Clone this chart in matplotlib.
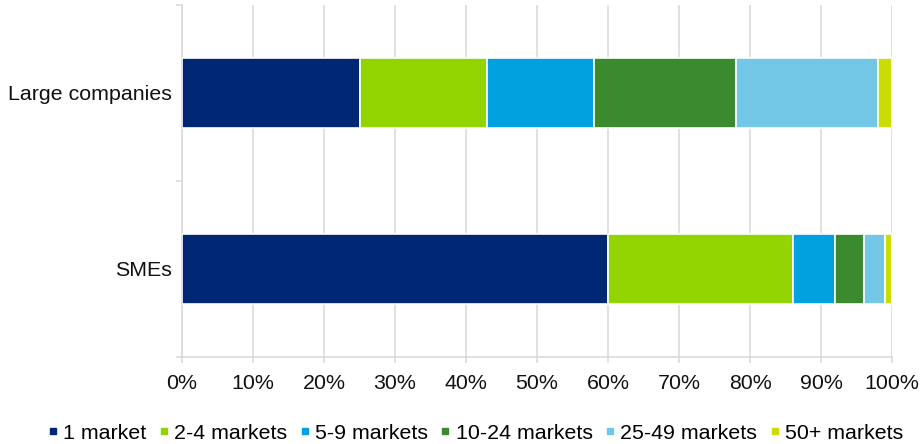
import matplotlib.pyplot as plt
import numpy as np
from matplotlib.lines import Line2D
from matplotlib.ticker import PercentFormatter

plt.rcParams['font.family'] = ['Liberation Sans', 'DejaVu Sans']

categorias = ['SMEs', 'Large companies']
tramos = ['1 market', '2-4 markets', '5-9 markets', '10-24 markets',
          '25-49 markets', '50+ markets']
# porcentaje de empresas por número de mercados (SMEs, Large companies)
valores = {
    '1 market':      [60, 25],
    '2-4 markets':   [26, 18],
    '5-9 markets':   [6, 15],
    '10-24 markets': [4, 20],
    '25-49 markets': [3, 20],
    '50+ markets':   [1, 2],
}
colores = ['#002776', '#92D400', '#00A1DE', '#3C8A2E', '#72C7E7', '#C9DD03']
GRIS = '#d9d9d9'
FUENTE = 15.4

fig = plt.figure(figsize=(9.24, 4.44), dpi=100)
ax = fig.add_axes([0.197, 0.196, 0.7684, 0.7928])

y = np.arange(len(categorias))
izquierda = np.zeros(len(categorias))
for tramo, color in zip(tramos, colores):
    v = np.array(valores[tramo], dtype=float)
    ax.barh(y, v, left=izquierda, height=0.4, color=color,
            edgecolor='white', linewidth=1.2, zorder=3)
    izquierda += v

ax.set_xlim(0, 100)
ax.set_ylim(-0.5, 1.5)
ax.set_xticks(np.arange(0, 101, 10))
ax.xaxis.set_major_formatter(PercentFormatter(decimals=0))
ax.set_yticks(y)
ax.set_yticklabels(categorias)
ax.set_yticks([-0.5, 0.5, 1.5], minor=True)

ax.grid(axis='x', color=GRIS, linewidth=1.1, zorder=0)
ax.tick_params(axis='x', colors=GRIS, labelcolor='#111111', labelsize=FUENTE,
               length=4, width=1.1, pad=8)
ax.tick_params(axis='y', which='major', length=0, labelsize=FUENTE,
               labelcolor='#111111', pad=7)
ax.tick_params(axis='y', which='minor', length=4.5, width=1.1, color=GRIS)
for lado in ['top', 'right']:
    ax.spines[lado].set_visible(False)
for lado in ['left', 'bottom']:
    ax.spines[lado].set_color(GRIS)
    ax.spines[lado].set_linewidth(1.1)

manejadores = [Line2D([], [], marker='s', linestyle='none', markersize=5,
                      markerfacecolor=c, markeredgecolor=c) for c in colores]
fig.legend(manejadores, tramos, loc='lower center', bbox_to_anchor=(0.5146, -0.04),
           ncol=6, frameon=False, fontsize=FUENTE, handlelength=0.45,
           handletextpad=0.25, columnspacing=0.6)

fig.savefig('out.png', dpi=100)
